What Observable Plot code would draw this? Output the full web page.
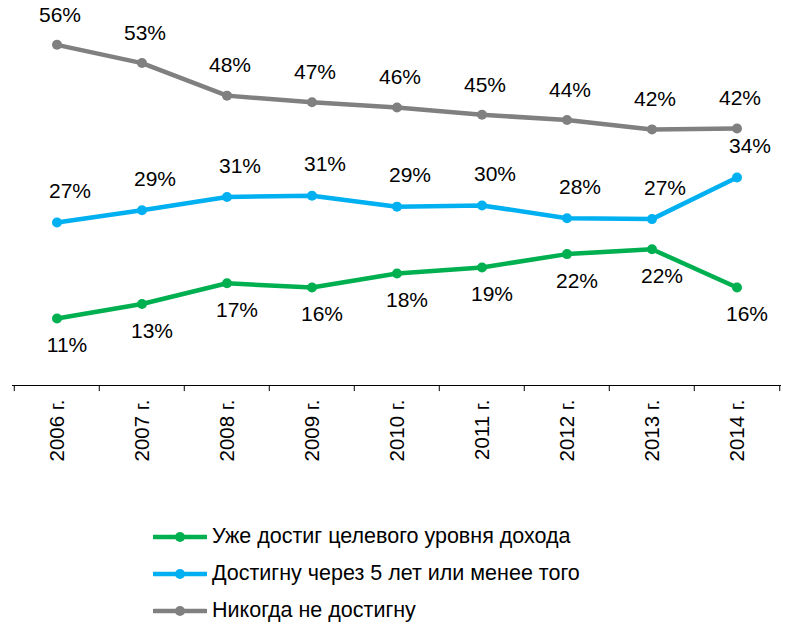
<!DOCTYPE html>
<html>
<head>
<meta charset="utf-8">
<script src="https://cdn.jsdelivr.net/npm/d3@7"></script>
<script src="https://cdn.jsdelivr.net/npm/@observablehq/plot@0.6"></script>
<style>
  body { margin: 0; background: #fff; font-family: "Liberation Sans", Arial, sans-serif; }
  #legend { padding-top: 43px; padding-left: 153px; }
  .row { display: flex; align-items: center; height: 37px; font-size: 21.5px; color: #000; }
  .row svg { margin-right: 5px; }
</style>
</head>
<body>
<div id="chart"></div>
<div id="legend"></div>
<script>
const categories = ["2006 г.", "2007 г.", "2008 г.", "2009 г.", "2010 г.", "2011 г.", "2012 г.", "2013 г.", "2014 г."];
const seriesNames = ["Уже достиг целевого уровня дохода", "Достигну через 5 лет или менее того", "Никогда не достигну"];
const reached = [11.0, 13.4, 16.8, 16.1, 18.4, 19.4, 21.6, 22.4, 16.1];
const within5 = [26.8, 28.8, 31.0, 31.2, 29.4, 29.6, 27.5, 27.35, 34.2];
const never = [56.0, 53.0, 47.65, 46.55, 45.7, 44.5, 43.65, 42.1, 42.26];
const colors = ["#00B050", "#00B0F0", "#808080"];

const seriesValues = [reached, within5, never];
const data = [];
seriesValues.forEach((vals, s) => vals.forEach((v, i) => data.push({series: seriesNames[s], cat: categories[i], value: v})));

const labelDy = {[seriesNames[0]]: 27, [seriesNames[1]]: -31, [seriesNames[2]]: -30};
const labelDx = {[seriesNames[0]]: 10, [seriesNames[1]]: 13, [seriesNames[2]]: 3};

const bw = (785 - 12 - 4) / categories.length;

const marks = [
  Plot.ruleY([0], {stroke: "#000", strokeWidth: 1}),
  Plot.ruleX(categories, {x: d => d, y1: 0, y2: -1, dx: -bw / 2, stroke: "#000"}),
  Plot.ruleX(categories.slice(-1), {x: d => d, y1: 0, y2: -1, dx: bw / 2, stroke: "#000"}),
  Plot.axisX({tickSize: 0, tickRotate: -90, tickPadding: 14, fontSize: 20.5, label: null, fill: "#000"})
];
seriesNames.forEach((name, s) => {
  const sub = data.filter(d => d.series === name);
  marks.push(Plot.line(sub, {x: "cat", y: "value", stroke: colors[s], strokeWidth: 4.5}));
  marks.push(Plot.dot(sub, {x: "cat", y: "value", fill: colors[s], r: 5}));
  marks.push(Plot.text(sub, {x: "cat", y: "value", text: d => Math.round(d.value) + "%", dx: labelDx[name], dy: labelDy[name], fontSize: 21, fill: "#000"}));
});

const chart = Plot.plot({
  width: 785,
  height: 475,
  marginLeft: 12,
  marginRight: 4,
  marginTop: 20,
  marginBottom: 90,
  x: {type: "band", domain: categories, padding: 0},
  y: {domain: [0, 60], axis: null},
  style: {fontFamily: "'Liberation Sans', Arial, sans-serif", fontSize: "20px", color: "#000", background: "#fff"},
  marks
});
document.getElementById("chart").appendChild(chart);

const legend = document.getElementById("legend");
seriesNames.forEach((name, s) => {
  const row = document.createElement("div");
  row.className = "row";
  row.innerHTML = `<svg width="54" height="12"><line x1="1" y1="6" x2="53" y2="6" stroke="${colors[s]}" stroke-width="4.5" stroke-linecap="round"/><circle cx="27" cy="6" r="5" fill="${colors[s]}"/></svg><span>${name}</span>`;
  legend.appendChild(row);
});
</script>
</body>
</html>
